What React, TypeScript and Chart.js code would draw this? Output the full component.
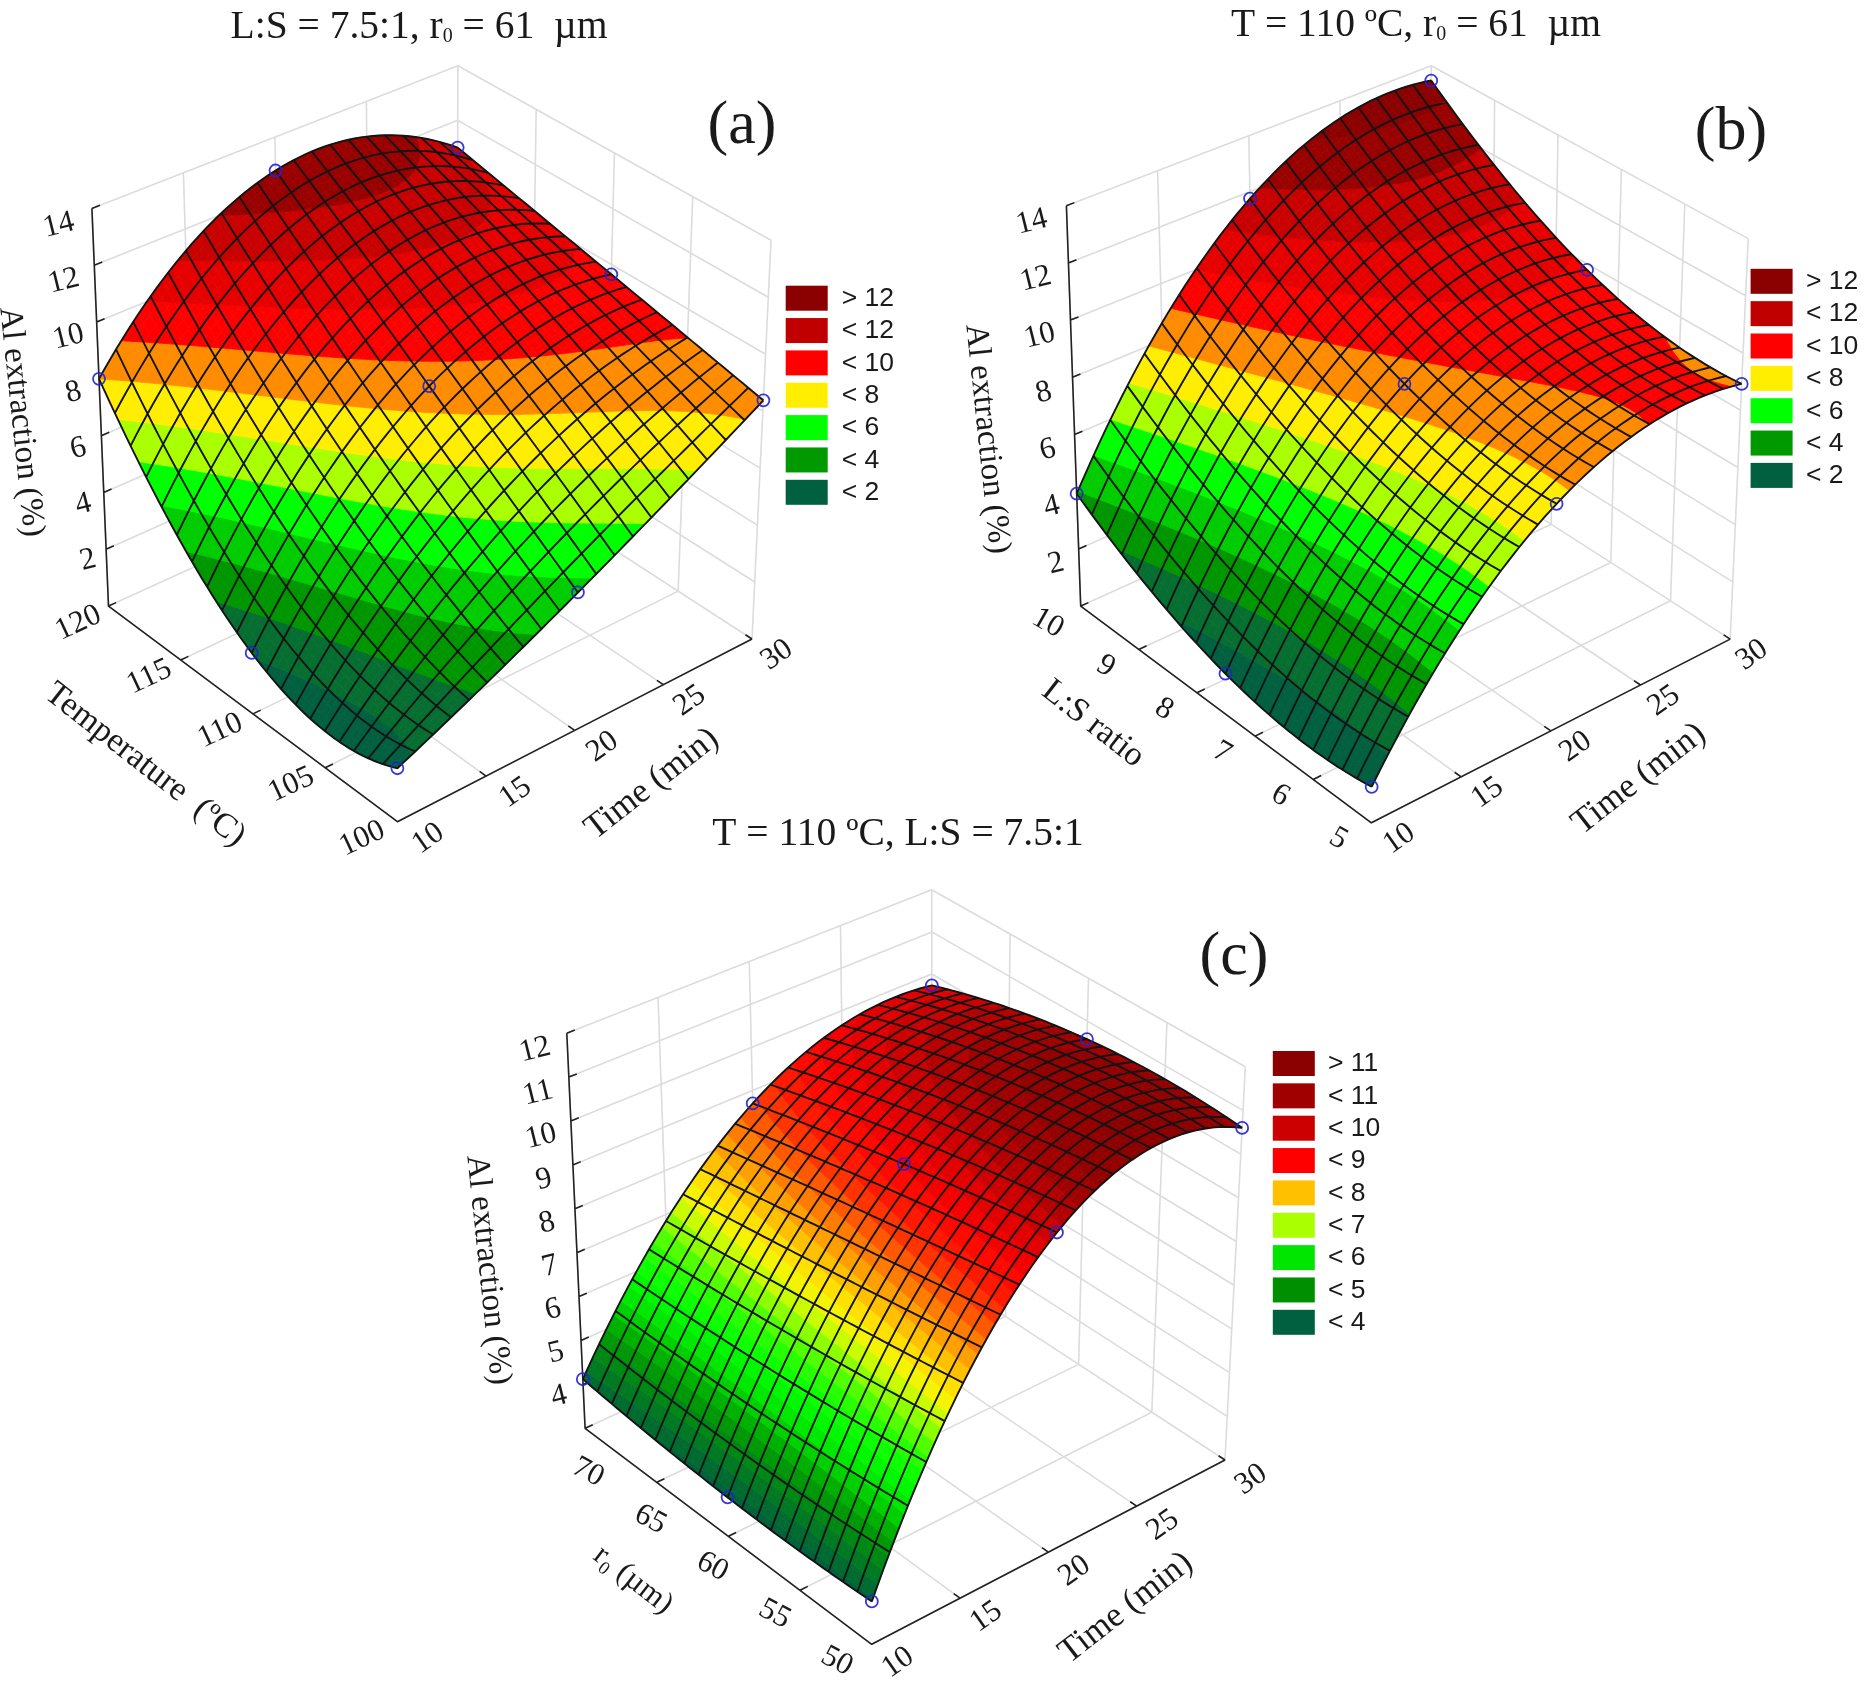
import React, { useEffect, useRef } from "react";
import { Chart, registerables } from "chart.js";

Chart.register(...registerables);

// The nine values of each panel are the blue design points.
// The coloured mesh is the biquadratic response surface through those nine points,
// as in the original response-surface plot; it is not a separately read series.
const timeDesign = [10, 20, 30];
const timeTicks = [10, 15, 20, 25, 30];

const tempDesign = [100, 110, 120];
const tempTicks = [100, 105, 110, 115, 120];
const alVsTemp = [
  [1.8, 2.1, 8.0],
  [4.74, 8.52, 12.8],
  [8.38, 9.65, 11.0],
];

const ratioDesign = [5, 7.5, 10];
const ratioTicks = [5, 6, 7, 8, 9, 10];
const alVsRatio = [
  [1.2, 1.39, 3.93],
  [7.75, 8.56, 11.75],
  [8.92, 9.79, 13.46],
];

const radiusDesign = [50, 60, 70];
const radiusTicks = [50, 55, 60, 65, 70];
const alVsRadius = [
  [3.94, 3.87, 4.12],
  [10.16, 9.53, 8.7],
  [10.6, 10.58, 9.73],
];

const zTicksAB = [2, 4, 6, 8, 10, 12, 14];
const zTicksC = [4, 5, 6, 7, 8, 9, 10, 11, 12];

const bandEdgesAB = [-99, 2, 3, 4, 5, 6, 7, 8, 9, 10, 11, 12, 13, 99];
const bandColorsAB = ["#006040", "#066e30", "#009600", "#00cc00", "#00ff00", "#aaff00", "#ffee00", "#ff8c00", "#ff0000", "#e60000", "#c80000", "#990000", "#8b0000"];

// Colour stops of panel (c): level, colour. Its bands are a quarter unit wide.
const stopLevelsC = [3.5, 4, 4.5, 5, 5.5, 6, 6.5, 7, 7.25, 7.5, 8, 8.5, 9, 9.5, 10, 10.5, 11];
const stopColorsC = [
  [0, 92, 64], [0, 100, 56], [0, 128, 28], [0, 160, 0], [0, 224, 0], [0, 255, 0], [50, 255, 0], [170, 255, 0], [232, 248, 0],
  [255, 240, 0], [255, 176, 0], [255, 106, 0], [255, 32, 0], [255, 0, 0], [216, 0, 0], [168, 0, 0], [139, 0, 0],
];
const colorAtC = (z: number) => {
  let i = 0;
  while (i < stopLevelsC.length - 2 && z > stopLevelsC[i + 1]) i++;
  const f = Math.max(0, Math.min(1, (z - stopLevelsC[i]) / (stopLevelsC[i + 1] - stopLevelsC[i])));
  const c = stopColorsC[i].map((v, k) => Math.round(v + (stopColorsC[i + 1][k] - v) * f));
  return `rgb(${c[0]},${c[1]},${c[2]})`;
};
const bandEdgesC: number[] = [-99];
for (let i = 0; i <= 30; i++) bandEdgesC.push(3.5 + i * 0.25);
bandEdgesC.push(99);
const bandColorsC = bandEdgesC.slice(0, -1).map((e, i) => colorAtC(i === 0 ? 3.5 : e + 0.125));

const legendLabelsAB = ["> 12", "< 12", "< 10", "< 8", "< 6", "< 4", "< 2"];
const legendColorsAB = ["#8b0000", "#c00000", "#ff0000", "#ffee00", "#00ff00", "#009900", "#006040"];
const legendLabelsC = ["> 11", "< 11", "< 10", "< 9", "< 8", "< 7", "< 6", "< 5", "< 4"];
const legendColorsC = ["#8b0000", "#a00000", "#cc0000", "#ff0000", "#ffc000", "#aaff00", "#00e600", "#008f00", "#00603f"];

type Run = { t: string; sub?: boolean };

const panels = [
  {
    rect: [0, 0, 935, 860],
    corners: { Lt: [91.9, 208.4], Bt: [457.9, 65.8], Rt: [771, 240.3], Ft: [397.4, 405.9], Lb: [108.5, 606.1], Bb: [456.7, 447.6], Rb: [752, 639], Fb: [397.4, 821.7] },
    z: alVsTemp, sDesign: tempDesign, sTicks: tempTicks, zMin: 0, zMax: 14, zTicks: zTicksAB,
    edges: bandEdgesAB, colors: bandColorsAB, legendLabels: legendLabelsAB, legendColors: legendColorsAB,
    title: [{ t: "L:S = 7.5:1, r" }, { t: "0", sub: true }, { t: " = 61  µm" }] as Run[], titleAt: [419, 28],
    tag: "(a)", tagAt: [742, 127],
    legendAt: [785.7, 285.7], legendTextX: 841.7,
    zOff: [[-33, 17], [-18, 11]], tOff: [[31, 17], [25, 16]], sOff: [[-35, 17], [-30, 17]], sRot: -25,
    zTitle: [21, 422], tTitle: [652, 784], sTitle: [145, 765], sLabel: "Temperature  (ºC)", sSize: 34,
  },
  {
    rect: [935, 0, 1868, 860],
    corners: { Lt: [1066.4, 205.7], Bt: [1431.2, 65.8], Rt: [1748.2, 238.6], Ft: [1374.4, 402.6], Lb: [1080.7, 606.1], Bb: [1431.8, 447.6], Rb: [1730.2, 639.1], Fb: [1371.4, 822.8] },
    z: alVsRatio, sDesign: ratioDesign, sTicks: ratioTicks, zMin: 0, zMax: 14, zTicks: zTicksAB,
    edges: bandEdgesAB, colors: bandColorsAB, legendLabels: legendLabelsAB, legendColors: legendColorsAB,
    title: [{ t: "T = 110 ºC, r" }, { t: "0", sub: true }, { t: " = 61  µm" }] as Run[], titleAt: [1416, 26],
    tag: "(b)", tagAt: [1731, 133],
    legendAt: [1750.6, 268.8], legendTextX: 1806,
    zOff: [[-34.7, 16.5], [-22.7, 14.8]], tOff: [[28, 16], [22, 16]], sOff: [[-33, 16], [-33, 17]], sRot: 30,
    zTitle: [987, 439], tTitle: [1639, 779], sTitle: [1093, 724], sLabel: "L:S ratio", sSize: 34,
  },
  {
    rect: [440, 810, 1400, 1685],
    corners: { Lt: [566.8, 1033.2], Bt: [931.7, 889.8], Rt: [1245.3, 1066.7], Ft: [873, 1234], Lb: [585.1, 1428.3], Bb: [932.3, 1268.7], Rb: [1225, 1460], Fb: [871.7, 1644.3] },
    z: alVsRadius, sDesign: radiusDesign, sTicks: radiusTicks, zMin: 3, zMax: 12, zTicks: zTicksC,
    edges: bandEdgesC, colors: bandColorsC, legendLabels: legendLabelsC, legendColors: legendColorsC,
    title: [{ t: "T = 110 ºC, L:S = 7.5:1" }] as Run[], titleAt: [898, 835],
    tag: "(c)", tagAt: [1234, 958],
    legendAt: [1272.8, 1051], legendTextX: 1328,
    zOff: [[-31.8, 16.7], [-24, 12]], tOff: [[26.3, 18.4], [26.4, 19.6]], sOff: [[-35, 17], [3, 44]], sRot: 28,
    zTitle: [488, 1270], tTitle: [1126, 1608], sTitle: [633, 1580], sLabel: "r₀ (µm)", sSize: 31,
  },
];

const lerp = (a: number, b: number, f: number) => a + (b - a) * f;
const basis = (x: number) => [2 * (x - 0.5) * (x - 1), 4 * x * (1 - x), 2 * x * (x - 0.5)];

function buildPanel(p: any) {
  const c = p.corners;
  const proj = (u: number, v: number, w: number) => {
    const b = [0, 1].map((i) => lerp(lerp(c.Fb[i], c.Rb[i], u), lerp(c.Lb[i], c.Bb[i], u), v));
    const t = [0, 1].map((i) => lerp(lerp(c.Ft[i], c.Rt[i], u), lerp(c.Lt[i], c.Bt[i], u), v));
    return { x: lerp(b[0], t[0], w), y: lerp(b[1], t[1], w) };
  };
  const zFrac = (z: number) => (z - p.zMin) / (p.zMax - p.zMin);
  const surf = (u: number, v: number) => {
    const bu = basis(u);
    const bv = basis(v);
    let s = 0;
    for (let i = 0; i < 3; i++) for (let j = 0; j < 3; j++) s += bu[i] * bv[j] * p.z[i][j];
    return s;
  };
  const onSurf = (u: number, v: number) => proj(u, v, zFrac(surf(u, v)));
  const gap = { x: NaN, y: NaN };

  // colour bands
  const cells = 20;
  const sub = 3;
  const n = cells * sub;
  const bands: any[][] = p.colors.map(() => []);
  for (let i = 0; i < n; i++) {
    for (let j = 0; j < n; j++) {
      const quad = [[i, j], [i + 1, j], [i + 1, j + 1], [i, j + 1]].map(([a, b]) => {
        const u = a / n;
        const v = b / n;
        return { u, v, z: surf(u, v) };
      });
      const lo = Math.min(...quad.map((q) => q.z));
      const hi = Math.max(...quad.map((q) => q.z));
      p.colors.forEach((_: string, k: number) => {
        const e0 = p.edges[k];
        const e1 = p.edges[k + 1];
        if (hi < e0 || lo > e1) return;
        let poly = quad;
        const clip = (level: number, keepAbove: boolean) => {
          const out: any[] = [];
          for (let m = 0; m < poly.length; m++) {
            const A = poly[m];
            const B = poly[(m + 1) % poly.length];
            const inA = keepAbove ? A.z >= level : A.z <= level;
            const inB = keepAbove ? B.z >= level : B.z <= level;
            if (inA) out.push(A);
            if (inA !== inB) {
              const f = (level - A.z) / (B.z - A.z);
              out.push({ u: lerp(A.u, B.u, f), v: lerp(A.v, B.v, f), z: level });
            }
          }
          poly = out;
        };
        clip(e0, true);
        if (poly.length) clip(e1, false);
        if (poly.length < 3) return;
        const pts = poly.map((q: any) => proj(q.u, q.v, zFrac(q.z)));
        bands[k].push(...pts, pts[0], gap);
      });
    }
  }

  // mesh
  const mesh: any[] = [];
  for (let i = 0; i <= cells; i++) {
    for (let k = 0; k <= n; k++) mesh.push(onSurf(i / cells, k / n));
    mesh.push(gap);
    for (let k = 0; k <= n; k++) mesh.push(onSurf(k / n, i / cells));
    mesh.push(gap);
  }

  // box
  const tMin = timeTicks[0];
  const tSpan = timeTicks[timeTicks.length - 1] - tMin;
  const sMin = p.sTicks[0];
  const sSpan = p.sTicks[p.sTicks.length - 1] - sMin;
  const grid: any[] = [];
  const axes: any[] = [];
  const seg = (arr: any[], ...pts: any[]) => arr.push(...pts, gap);
  const us = timeTicks.map((t) => (t - tMin) / tSpan);
  const vs = p.sTicks.map((s: number) => (s - sMin) / sSpan);
  const ws = p.zTicks.map(zFrac);
  us.forEach((u) => seg(grid, proj(u, 0, 0), proj(u, 1, 0), proj(u, 1, 1)));
  vs.forEach((v: number) => seg(grid, proj(0, v, 0), proj(1, v, 0), proj(1, v, 1)));
  [0, ...ws].forEach((w: number) => seg(grid, proj(0, 1, w), proj(1, 1, w), proj(1, 0, w)));
  seg(axes, proj(0, 1, 1), proj(0, 1, 0), proj(0, 0, 0), proj(1, 0, 0));
  ws.forEach((w: number) => seg(axes, proj(0, 1, w), proj(0.022, 1, w)));
  us.forEach((u) => seg(axes, proj(u, 0, 0), proj(u, 0.022, 0)));
  vs.forEach((v: number) => seg(axes, proj(0, v, 0), proj(0.022, v, 0)));

  // design points
  const design: any[] = [];
  const sLo = p.sDesign[0];
  const sHi = p.sDesign[2];
  timeDesign.forEach((t, i) => p.sDesign.forEach((s: number, j: number) => {
    design.push(proj((t - tMin) / tSpan, (s - sLo) / (sHi - sLo), zFrac(p.z[i][j])));
  }));

  const line = { showLine: true, pointRadius: 0, pointHoverRadius: 0, fill: false, borderDash: [1000, 0], borderJoinStyle: "round" as const };
  const datasets: any[] = [
    { ...line, label: "Design points", data: design, showLine: false, pointRadius: 6, pointStyle: "circle", pointBackgroundColor: "rgba(0,0,0,0)", pointBorderColor: "rgba(35,35,205,0.9)", pointBorderWidth: 1.8 },
    { ...line, label: "Mesh", data: mesh, borderColor: "#141414", borderWidth: 1.9 },
  ];
  for (let k = p.colors.length - 1; k >= 0; k--) {
    datasets.push({ ...line, label: p.edges[k] + " to " + p.edges[k + 1], data: bands[k], fill: "shape", backgroundColor: p.colors[k], borderColor: p.colors[k], borderWidth: 0.8 });
  }
  datasets.push({ ...line, label: "Axes", data: axes, borderColor: "#222", borderWidth: 1.6 });
  datasets.push({ ...line, label: "Grid", data: grid, borderColor: "#dcdcdc", borderWidth: 1.6 });

  const labels: any[] = [];
  const addLabel = (text: string, at: any, off: number[], rot: number, font: string) => labels.push({ text, x: at.x + off[0], y: at.y + off[1], rot, font });
  const tickFont = "31px 'Liberation Serif'";
  const mixOff = (o: number[][], f: number) => [lerp(o[0][0], o[1][0], f), lerp(o[0][1], o[1][1], f)];
  p.zTicks.forEach((z: number, i: number) => {
    const f = 1 - i / (p.zTicks.length - 1);
    addLabel(String(z), proj(0, 1, zFrac(z)), mixOff(p.zOff, f), -14, tickFont);
  });
  timeTicks.forEach((t, i) => addLabel(String(t), proj(us[i], 0, 0), mixOff(p.tOff, us[i]), -35, tickFont));
  p.sTicks.forEach((s: number, i: number) => addLabel(String(s), proj(0, vs[i], 0), mixOff(p.sOff, vs[i]), p.sRot, tickFont));

  return { datasets, labels };
}

function drawRuns(ctx: CanvasRenderingContext2D, runs: Run[], cx: number, cy: number, size: number) {
  const big = size + "px 'Liberation Serif'";
  const small = Math.round(size * 0.5) + "px 'Liberation Serif'";
  let w = 0;
  runs.forEach((r) => {
    ctx.font = r.sub ? small : big;
    w += ctx.measureText(r.t).width;
  });
  let x = cx - w / 2;
  ctx.textAlign = "left";
  ctx.textBaseline = "middle";
  runs.forEach((r) => {
    ctx.font = r.sub ? small : big;
    ctx.fillText(r.t, x, r.sub ? cy + 9 : cy);
    x += ctx.measureText(r.t).width;
  });
}

function Panel({ p }: { p: any }) {
  const ref = useRef<HTMLCanvasElement | null>(null);
  useEffect(() => {
    const [l, t, r, b] = p.rect;
    const { datasets, labels } = buildPanel(p);
    const textPlugin = {
      id: "panelText",
      afterDraw(chart: any) {
        const { ctx, scales } = chart;
        const X = (v: number) => scales.x.getPixelForValue(v);
        const Y = (v: number) => scales.y.getPixelForValue(v);
        ctx.save();
        ctx.fillStyle = "#1a1a1a";
        const rotated = (text: string, x: number, y: number, deg: number, font: string) => {
          ctx.save();
          ctx.translate(X(x), Y(y));
          ctx.rotate((deg * Math.PI) / 180);
          ctx.font = font;
          ctx.textAlign = "center";
          ctx.textBaseline = "middle";
          ctx.fillText(text, 0, 0);
          ctx.restore();
        };
        labels.forEach((a: any) => rotated(a.text, a.x, a.y, a.rot, a.font));
        rotated("Al extraction (%)", p.zTitle[0], p.zTitle[1], 84, "33px 'Liberation Serif'");
        rotated("Time (min)", p.tTitle[0], p.tTitle[1], -38, "35px 'Liberation Serif'");
        rotated(p.sLabel, p.sTitle[0], p.sTitle[1], 38, p.sSize + "px 'Liberation Serif'");
        rotated(p.tag, p.tagAt[0], p.tagAt[1], 0, "62px 'Liberation Serif'");
        drawRuns(ctx, p.title, X(p.titleAt[0]), Y(p.titleAt[1]), 39.5);
        p.legendLabels.forEach((label: string, i: number) => {
          const y0 = p.legendAt[1] + i * 32.35;
          ctx.fillStyle = p.legendColors[i];
          ctx.fillRect(X(p.legendAt[0]), Y(y0), 42, 25);
          ctx.fillStyle = "#1a1a1a";
          ctx.font = "26.5px 'Liberation Sans'";
          ctx.textAlign = "left";
          ctx.textBaseline = "middle";
          ctx.fillText(label, X(p.legendTextX), Y(y0 + 13));
        });
        ctx.restore();
      },
    };
    const chart = new Chart(ref.current as HTMLCanvasElement, {
      type: "scatter",
      data: { datasets },
      options: {
        animation: false,
        responsive: false,
        devicePixelRatio: 1,
        events: [],
        layout: { padding: 0, autoPadding: false },
        plugins: { legend: { display: false }, tooltip: { enabled: false }, title: { display: false } },
        scales: {
          x: { type: "linear", min: l, max: r, display: false },
          y: { type: "linear", min: t, max: b, reverse: true, display: false },
        },
      },
      plugins: [textPlugin],
    } as any);
    return () => chart.destroy();
  }, [p]);
  const [l, t, r, b] = p.rect;
  return <canvas ref={ref} width={r - l} height={b - t} style={{ position: "absolute", left: l, top: t, width: r - l, height: b - t }} />;
}

export default function App() {
  useEffect(() => {
    document.body.style.margin = "0";
    document.body.style.background = "#fff";
  }, []);
  return (
    <div style={{ position: "relative", width: 1868, height: 1685, overflow: "hidden", background: "#fff" }}>
      {panels.map((p, i) => (
        <Panel key={i} p={p} />
      ))}
    </div>
  );
}
